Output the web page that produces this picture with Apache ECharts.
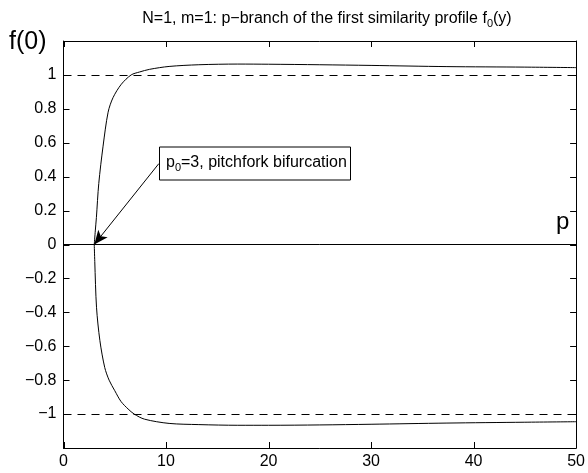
<!DOCTYPE html>
<html>
<head>
    <meta charset="utf-8">
    <title>p-branch</title>
    <script src="https://cdn.jsdelivr.net/npm/echarts@6/dist/echarts.min.js"></script>
    <style>
        html, body { margin: 0; padding: 0; background: #fff; }
    </style>
</head>
<body>
<div id="main" style="width: 588px;height:473px;"></div>

<script type="text/javascript">
    // upper branch f(0) > 0
    var upperP = [3, 3.1, 3.21, 3.44, 3.86, 4.35, 4.83, 5.64, 6.6, 7.4, 8.4, 10.3, 13.2, 17, 20, 25, 30, 37.4, 45, 50];
    var upperF = [0, 0.08, 0.16, 0.36, 0.58, 0.78, 0.866, 0.945, 1.0, 1.017, 1.033, 1.05, 1.06, 1.064, 1.063, 1.06, 1.056, 1.049, 1.046, 1.043];
    // lower branch f(0) < 0
    var lowerP = [3, 3.05, 3.22, 3.55, 4.02, 4.45, 5.0, 5.6, 6.3, 6.9, 7.9, 10.3, 13.2, 17, 20, 25, 30, 37.4, 45, 50];
    var lowerF = [0, -0.1, -0.37, -0.567, -0.725, -0.8, -0.862, -0.925, -0.97, -1.0, -1.03, -1.055, -1.062, -1.066, -1.066, -1.064, -1.06, -1.053, -1.048, -1.045];
    var xTicks = [0, 10, 20, 30, 40, 50];
    var yTicks = [-1.2, -1, -0.8, -0.6, -0.4, -0.2, 0, 0.2, 0.4, 0.6, 0.8, 1, 1.2];
    var yLabels = ['', '\u22121', '\u22120.8', '\u22120.6', '\u22120.4', '\u22120.2', '0', '0.2', '0.4', '0.6', '0.8', '1', ''];
    var p0 = 3;
    var arrowStart = [9.3, 0.477];

    var xMin = 0, xMax = 50, yMin = -1.2, yMax = 1.2;
    var tickLen = 6;

    function pairs(xs, ys) {
        var out = [];
        for (var i = 0; i < xs.length; i++) {
            out.push([xs[i], ys[i]]);
        }
        return out;
    }

    var font = 'Liberation Sans, Arial, sans-serif';
    var axisLine = { show: true, onZero: false, lineStyle: { color: '#000', width: 1 } };

    // axisTick inside:true does not draw in this build, so the inward ticks are a custom series
    function tickLine(x1, y1, x2, y2) {
        return { type: 'line', shape: { x1: x1, y1: y1, x2: x2, y2: y2 }, style: { stroke: '#000', lineWidth: 1 } };
    }
    function renderXTick(params, api) {
        var b = api.coord([api.value(0), yMin]);
        var t = api.coord([api.value(0), yMax]);
        var x = Math.round(b[0]) + 0.5;
        return { type: 'group', children: [tickLine(x, b[1], x, b[1] - tickLen), tickLine(x, t[1], x, t[1] + tickLen)] };
    }
    function renderYTick(params, api) {
        var l = api.coord([xMin, api.value(1)]);
        var r = api.coord([xMax, api.value(1)]);
        var y = Math.round(l[1]) + 0.5;
        return { type: 'group', children: [tickLine(l[0], y, l[0] + tickLen, y), tickLine(r[0], y, r[0] - tickLen, y)] };
    }

    var myChart = echarts.init(document.getElementById('main'));

    var option = {
        animation: false,
        backgroundColor: '#fff',
        title: {
            text: 'N=1, m=1: p\u2212branch of the first similarity profile f{sub|0}(y)',
            left: 322,
            textAlign: 'center',
            top: 4,
            textStyle: {
                fontFamily: font, fontSize: 16, fontWeight: 'normal', color: '#000',
                rich: { sub: { fontFamily: font, fontSize: 11, color: '#000', padding: [9, 0, 0, 0] } }
            }
        },
        grid: { left: 63.5, right: 8, top: 41, bottom: 25 },
        xAxis: [{
            type: 'value', min: xMin, max: xMax, interval: 10,
            axisLine: axisLine,
            axisTick: { show: false },
            axisLabel: { color: '#000', fontFamily: font, fontSize: 16, margin: 6 },
            splitLine: { show: false }
        }, {
            type: 'value', min: xMin, max: xMax, interval: 10, position: 'top',
            axisLine: axisLine,
            axisTick: { show: false },
            axisLabel: { show: false },
            splitLine: { show: false }
        }],
        yAxis: [{
            type: 'value', min: yMin, max: yMax, interval: 0.2,
            axisLine: axisLine,
            axisTick: { show: false },
            axisLabel: {
                color: '#000', fontFamily: font, fontSize: 16, margin: 7,
                formatter: function (v) {
                    for (var i = 0; i < yTicks.length; i++) {
                        if (Math.abs(yTicks[i] - v) < 1e-6) return yLabels[i];
                    }
                    return '';
                }
            },
            splitLine: { show: false }
        }, {
            type: 'value', min: yMin, max: yMax, interval: 0.2, position: 'right',
            axisLine: axisLine,
            axisTick: { show: false },
            axisLabel: { show: false },
            splitLine: { show: false }
        }],
        graphic: [{
            type: 'text', left: 9, top: 30,
            style: { text: 'f(0)', fontFamily: font, fontSize: 25, fill: '#000' }
        }, {
            type: 'text', left: 556, top: 210,
            style: { text: 'p', fontFamily: font, fontSize: 24, fill: '#000' }
        }, {
            type: 'rect',
            shape: { x: 159.5, y: 147, width: 191, height: 33 },
            style: { fill: '#fff', stroke: '#000', lineWidth: 1 },
            z: 100
        }, {
            type: 'text', left: 166, top: 155,
            style: {
                text: 'p{sub|0}=3, pitchfork bifurcation',
                fontFamily: font, fontSize: 16, fill: '#000',
                rich: { sub: { fontFamily: font, fontSize: 11, fill: '#000', padding: [9, 0, 0, 0] } }
            },
            z: 101
        }],
        series: [{
            type: 'line',
            data: pairs(upperP, upperF),
            showSymbol: false,
            smooth: 0.3,
            lineStyle: { color: '#000', width: 1 },
            markLine: {
                silent: true,
                symbol: ['none', 'none'],
                label: { show: false },
                data: [
                    { yAxis: 1, lineStyle: { color: '#000', width: 1, type: [8, 6] } },
                    { yAxis: -1, lineStyle: { color: '#000', width: 1, type: [8, 6] } },
                    { yAxis: 0, lineStyle: { color: '#000', width: 1, type: 'solid' } }
                ]
            }
        }, {
            type: 'line',
            data: pairs(lowerP, lowerF),
            showSymbol: false,
            smooth: 0.3,
            lineStyle: { color: '#000', width: 1 },
            markLine: {
                silent: true,
                symbol: ['none', 'arrow'],
                symbolSize: [9, 14],
                label: { show: false },
                lineStyle: { color: '#000', width: 1, type: 'solid' },
                data: [[{ coord: arrowStart }, { coord: [p0, 0] }]]
            }
        }, {
            type: 'custom',
            silent: true,
            clip: false,
            renderItem: renderXTick,
            data: xTicks.map(function (v) { return [v, 0]; })
        }, {
            type: 'custom',
            silent: true,
            clip: false,
            renderItem: renderYTick,
            data: yTicks.map(function (v) { return [0, v]; })
        }]
    };

    myChart.setOption(option);
</script>
</body>
</html>
